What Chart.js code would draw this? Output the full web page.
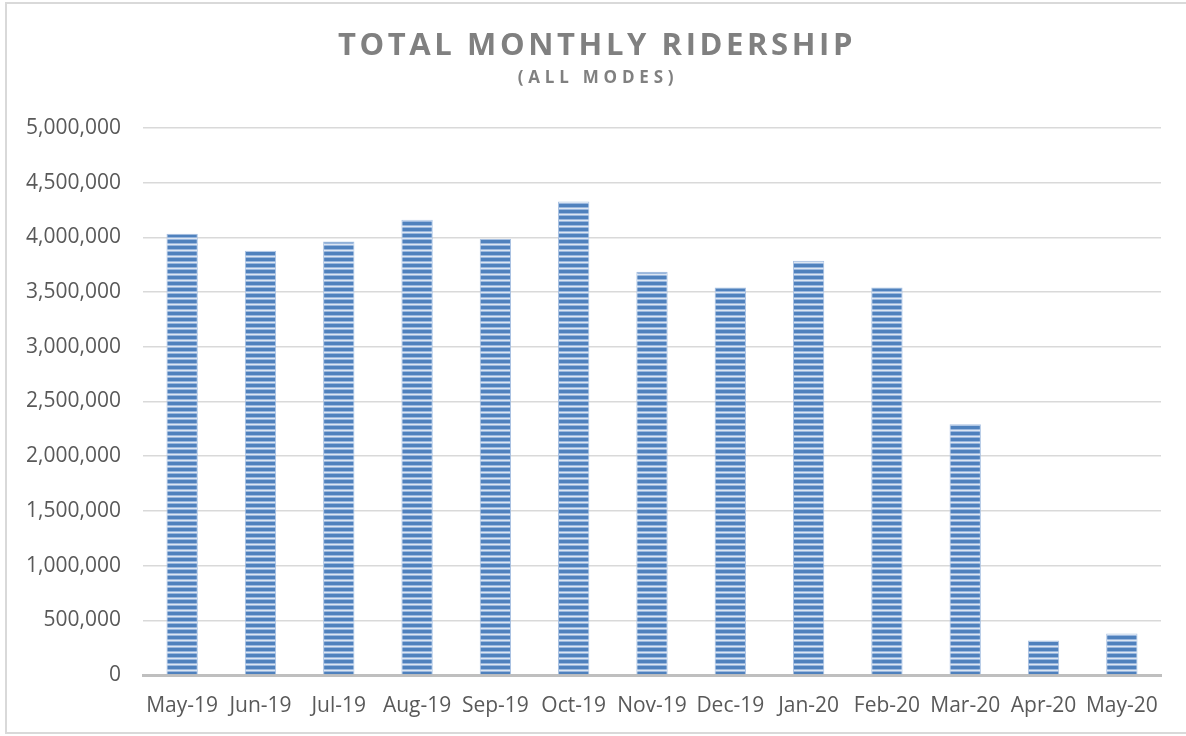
<!DOCTYPE html>
<html>
<head>
<meta charset="utf-8">
<script src="https://cdn.jsdelivr.net/npm/chart.js@4"></script>
<style>
  html, body { margin: 0; padding: 0; background: #fff; overflow: hidden; }
  #frame { position: absolute; left: 5px; top: 2px; width: 1200px; height: 732px; border: 2px solid #d9d9d9; box-sizing: border-box; }
  #wrap { position: absolute; left: 0; top: 0; width: 1186px; height: 736px; }
</style>
</head>
<body>
<div id="frame"></div>
<div id="wrap"><canvas id="ridership"></canvas></div>
<script>
const months = ['May-19', 'Jun-19', 'Jul-19', 'Aug-19', 'Sep-19', 'Oct-19', 'Nov-19', 'Dec-19', 'Jan-20', 'Feb-20', 'Mar-20', 'Apr-20', 'May-20'];
const riders = [4034000, 3878000, 3963000, 4162000, 3985000, 4329000, 3687000, 3543000, 3787000, 3543000, 2291000, 316000, 380000];
const titleText = 'TOTAL MONTHLY RIDERSHIP';
const subtitleText = '(ALL MODES)';

// striped fill like the excel bars
function stripes() {
    const c = document.createElement('canvas');
    c.width = 8; c.height = 6;
    const g = c.getContext('2d');
    const rows = ['#4f81bd', '#4f81bd', '#4f81bd', '#9ab7de', '#dce6f2', '#9ab7de'];
    rows.forEach((col, i) => { g.fillStyle = col; g.fillRect(0, i, 8, 1); });
    return g.createPattern(c, 'repeat');
}

const headings = {
    id: 'headings',
    afterDraw(chart) {
        const ctx = chart.ctx;
        ctx.save();
        ctx.fillStyle = '#808080';
        ctx.textAlign = 'center';
        ctx.textBaseline = 'alphabetic';
        ctx.font = 'bold 31px "Open Sans"';
        ctx.letterSpacing = '3.6px';
        ctx.fillText(titleText, 597, 55);
        ctx.font = 'bold 17px "Open Sans"';
        ctx.letterSpacing = '4.8px';
        ctx.fillText(subtitleText, 598, 83);
        ctx.restore();
    }
};

const el = document.getElementById('ridership');
new Chart(el, {
    type: 'bar',
    data: {
        labels: months,
        datasets: [{
            label: 'Ridership',
            data: riders,
            backgroundColor: stripes(),
            borderColor: '#a8c1e2',
            borderWidth: 1,
            categoryPercentage: 1,
            barPercentage: 0.4
        }]
    },
    options: {
        responsive: true,
        maintainAspectRatio: false,
        animation: false,
        layout: { padding: { top: 128, right: 25, bottom: 0, left: 0 } },
        plugins: {
            legend: { display: false },
            title: { display: false },
            tooltip: { enabled: false }
        },
        scales: {
            x: {
                grid: { display: false },
                border: { color: '#bfbfbf', width: 3 },
                ticks: {
                    color: '#595959',
                    font: { family: 'Open Sans', size: 21 },
                    padding: 10,
                    maxRotation: 0,
                    autoSkip: false
                },
                afterFit(s) { s.height = 61; }
            },
            y: {
                min: 0,
                max: 5000000,
                border: { display: false },
                grid: { color: '#d9d9d9', lineWidth: 1.5, drawTicks: false },
                ticks: {
                    stepSize: 500000,
                    color: '#595959',
                    font: { family: 'Open Sans', size: 21 },
                    padding: 22,
                    callback: v => v.toLocaleString('en-US')
                },
                afterFit(s) { s.width = 143; }
            }
        }
    },
    plugins: [headings]
});
</script>
</body>
</html>
